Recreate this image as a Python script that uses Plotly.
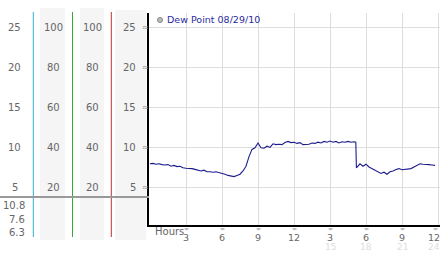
import plotly.graph_objects as go

W, H = 442, 253

hours = [0, 0.25, 0.5, 0.75, 1.0, 1.25, 1.5, 1.75, 2.0, 2.25, 2.5, 2.75, 3.0, 3.25, 3.5, 3.75,
         4.0, 4.25, 4.5, 4.75, 5.0, 5.25, 5.5, 5.75, 6.0, 6.25, 6.5, 6.75, 7.0, 7.25, 7.5, 7.75,
         8.0, 8.25, 8.5, 8.75, 9.0, 9.25, 9.5, 9.75, 10.0, 10.25, 10.5, 10.75, 11.0, 11.25, 11.5, 11.75,
         12.0, 12.25, 12.5, 12.75, 13.0, 13.25, 13.5, 13.75, 14.0, 14.25, 14.5, 14.75, 15.0, 15.25, 15.5, 15.75,
         16.0, 16.25, 16.5, 16.75, 17.0, 17.15, 17.2, 17.5, 17.75, 18.0, 18.25, 18.5, 18.75, 19.0, 19.25, 19.5, 19.75,
         20.0, 20.25, 20.5, 20.75, 21.0, 21.25, 21.5, 21.75, 22.0, 22.25, 22.5, 22.75, 23.0, 23.25, 23.5, 23.75]
dew_point = [7.9, 7.95, 7.85, 7.9, 7.8, 7.75, 7.8, 7.6, 7.7, 7.55, 7.6, 7.4, 7.35, 7.35, 7.3, 7.2,
             7.1, 7.0, 7.1, 6.9, 6.9, 6.85, 6.9, 6.8, 6.75, 6.6, 6.45, 6.35, 6.3, 6.45, 6.6, 7.0,
             7.6, 8.8, 9.7, 9.9, 10.5, 9.9, 9.85, 10.1, 9.95, 10.4, 10.3, 10.35, 10.3, 10.55, 10.7, 10.55,
             10.6, 10.45, 10.55, 10.3, 10.3, 10.35, 10.5, 10.45, 10.6, 10.5, 10.7, 10.6, 10.75, 10.6, 10.7, 10.5,
             10.65, 10.6, 10.7, 10.6, 10.65, 10.6, 7.4, 7.9, 7.6, 7.85, 7.5, 7.3, 7.0, 6.8, 6.7, 6.85, 6.6,
             6.9, 7.0, 7.2, 7.3, 7.15, 7.2, 7.3, 7.3, 7.5, 7.75, 7.9, 7.85, 7.85, 7.8, 7.75, 7.7]

y_ticks = [25, 20, 15, 10, 5]
pct_ticks = [100, 80, 60, 40, 20]
x_tickvals = [3, 6, 9, 12, 15, 18, 21, 24]
x_ticktext = ["3", "6", "9", "12", "3", "6", "9", "12"]
x_ticktext24 = ["", "", "", "", "15", "18", "21", "24"]
stats_labels = ["10.8", "7.6", "6.3"]
legend_label = "Dew Point 08/29/10"


def px(x):
    return x / W


def py(y):
    return 1 - y / H


def val_to_py(v):
    return 227 - 8 * v


def hour_to_px(h):
    return 150 + 12 * h


FONT = "DejaVu Sans"
GRAY = "#666666"

fig = go.Figure()
fig.add_trace(go.Scatter(x=hours, y=dew_point, mode="lines",
                         line=dict(color="#1c1c8e", width=1.1), showlegend=False,
                         hoverinfo="skip"))

shapes = []
annotations = []

# gray bands
for x0, x1, y0, y1 in [(40, 65, 8, 240), (80, 104, 8, 240), (115, 146, 10, 240)]:
    shapes.append(dict(type="rect", xref="paper", yref="paper", x0=px(x0), x1=px(x1),
                       y0=py(y1), y1=py(y0), fillcolor="#f5f5f5", line=dict(width=0), layer="below"))
# colored vertical lines
for x, c in [(33.3, "#35aed0"), (72.5, "#33aa33"), (111.3, "#bb3333")]:
    shapes.append(dict(type="line", xref="paper", yref="paper", x0=px(x), x1=px(x),
                       y0=py(237), y1=py(12), line=dict(color=c, width=1)))
# horizontal gray line
shapes.append(dict(type="line", xref="paper", yref="paper", x0=0, x1=px(149),
                   y0=py(197), y1=py(197), line=dict(color="#999999", width=2)))

# left column labels
for v, p in zip(y_ticks, pct_ticks):
    yy = py(val_to_py(v))
    annotations.append(dict(x=px(15), y=yy, xref="paper", yref="paper", text=str(v), showarrow=False,
                            font=dict(family=FONT, size=10, color=GRAY), xanchor="center", yanchor="middle"))
    for cx in (53, 92):
        annotations.append(dict(x=px(cx), y=yy, xref="paper", yref="paper", text=str(p), showarrow=False,
                                font=dict(family=FONT, size=10, color=GRAY), xanchor="center", yanchor="middle"))
    annotations.append(dict(x=px(138), y=yy, xref="paper", yref="paper", text=str(v), showarrow=False,
                            font=dict(family=FONT, size=10, color=GRAY), xanchor="right", yanchor="middle"))
    annotations.append(dict(x=px(145), y=yy, xref="paper", yref="paper", text="≈", showarrow=False,
                            font=dict(family=FONT, size=8, color="#888888"), xanchor="center", yanchor="middle"))

for lab, yy in zip(stats_labels, [205, 219, 232]):
    annotations.append(dict(x=px(27), y=py(yy), xref="paper", yref="paper", text=lab, showarrow=False,
                            font=dict(family=FONT, size=10, color=GRAY), xanchor="right", yanchor="middle"))

# x tick labels (placed in paper coords so the edge label is not hidden)
for i, (xv, t1, t2) in enumerate(zip(x_tickvals, x_ticktext, x_ticktext24)):
    last = i == len(x_tickvals) - 1
    anc = "right" if last else "center"
    xx = px(442) if last else px(hour_to_px(xv))
    annotations.append(dict(x=px(hour_to_px(xv)) if not last else px(440), y=py(228.5), xref="paper", yref="paper",
                            text="≈", showarrow=False, xanchor=anc, yanchor="middle",
                            font=dict(family=FONT, size=6, color="#888888")))
    annotations.append(dict(x=xx, y=py(237.5), xref="paper", yref="paper", text=t1, showarrow=False,
                            font=dict(family=FONT, size=9.5, color=GRAY), xanchor=anc, yanchor="middle"))
    if t2:
        annotations.append(dict(x=xx, y=py(246.5), xref="paper", yref="paper", text=t2, showarrow=False,
                                font=dict(family=FONT, size=9, color="#dddddd"), xanchor=anc, yanchor="middle"))
annotations.append(dict(x=px(153), y=py(231), xref="paper", yref="paper", text="Hours", showarrow=False,
                        font=dict(family=FONT, size=10, color=GRAY), xanchor="left", yanchor="middle"))

# legend
annotations.append(dict(x=px(165), y=py(20), xref="paper", yref="paper", text=legend_label, showarrow=False,
                        font=dict(family=FONT, size=9.5, color="#2a2aa0"), xanchor="left", yanchor="middle"))
shapes.append(dict(type="circle", xref="paper", yref="paper", x0=px(157.5), x1=px(162.5),
                   y0=py(22.5), y1=py(17.5), fillcolor="#bbbbbb", line=dict(color="#888888", width=1)))

fig.update_layout(
    width=W, height=H, margin=dict(l=0, r=0, t=0, b=0),
    paper_bgcolor="white", plot_bgcolor="white",
    xaxis=dict(domain=[px(149), px(440)], range=[-1 / 12, 24 + 2 / 12],
               tickvals=x_tickvals, showticklabels=False, ticks="",
               showgrid=True, gridcolor="#dddddd", gridwidth=1, zeroline=False,
               showline=True, linecolor="black", linewidth=2),
    yaxis=dict(domain=[py(225), py(13)], range=[0.25, 26.75],
               tickvals=y_ticks, showticklabels=False, ticks="",
               showgrid=True, gridcolor="#dddddd", gridwidth=1, zeroline=False,
               showline=True, linecolor="black", linewidth=2),
    shapes=shapes, annotations=annotations, showlegend=False,
)

fig.write_html("out.html")
